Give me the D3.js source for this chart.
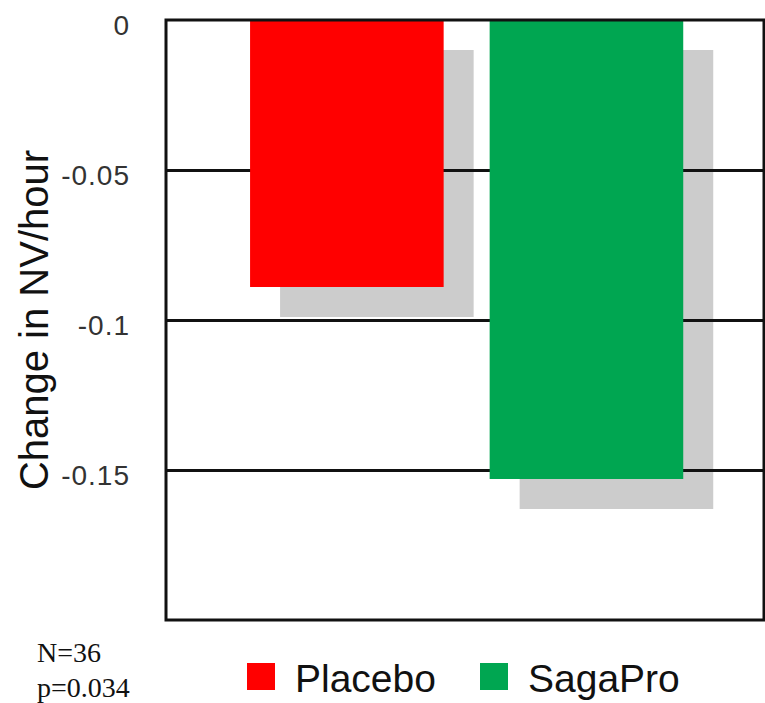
<!DOCTYPE html>
<html>
<head>
<meta charset="utf-8">
<script src="https://cdn.jsdelivr.net/npm/d3@7.9.0/dist/d3.min.js"></script>
<style>
  html, body { margin: 0; padding: 0; background: #fff; }
  svg { display: block; }
</style>
</head>
<body>
<svg id="chart" width="765" height="703"></svg>
<script>
// data
const groups = ['Placebo', 'SagaPro'];
const changes = [-0.089, -0.153];
const groupColors = ['#ff0000', '#00a651'];
const yTicks = [0, -0.05, -0.1, -0.15];
const yTickLabels = ['0', '-0.05', '-0.1', '-0.15'];
const notes = ['N=36', 'p=0.034'];

const svg = d3.select('#chart');
const plotLeft = 166, plotRight = 764, plotTop = 20, plotBottom = 620;
const shadowOffset = 30;

const y = d3.scaleLinear().domain([-0.2, 0]).range([plotBottom, plotTop]);
const x = d3.scaleBand().domain(groups).range([plotLeft, plotRight])
  .paddingInner(0.192).paddingOuter(0.344).align(0.51);

const data = groups.map((g, i) => ({ group: g, value: changes[i], color: groupColors[i] }));

// plot background
svg.append('rect')
  .attr('x', plotLeft).attr('y', plotTop)
  .attr('width', plotRight - plotLeft).attr('height', plotBottom - plotTop)
  .attr('fill', '#fff');

// drop shadows behind the bars
svg.selectAll('.shadow')
  .data(data)
  .join('rect')
  .attr('class', 'shadow')
  .attr('x', d => x(d.group) + shadowOffset)
  .attr('y', y(0) + shadowOffset)
  .attr('width', x.bandwidth())
  .attr('height', d => y(d.value) - y(0))
  .attr('fill', '#cccccc');

// grid lines (over shadows, under bars)
const yAxis = d3.axisLeft(y)
  .tickValues(yTicks.slice(1))
  .tickSize(-(plotRight - plotLeft))
  .tickFormat('');
svg.append('g')
  .attr('transform', `translate(${plotLeft},0)`)
  .call(yAxis)
  .call(g => g.select('.domain').remove())
  .call(g => g.selectAll('line').attr('stroke', '#111').attr('stroke-width', 3));

// bars
svg.selectAll('.bar')
  .data(data)
  .join('rect')
  .attr('class', 'bar')
  .attr('x', d => x(d.group))
  .attr('y', y(0))
  .attr('width', x.bandwidth())
  .attr('height', d => y(d.value) - y(0))
  .attr('fill', d => d.color);

// frame
svg.append('rect')
  .attr('x', plotLeft).attr('y', plotTop)
  .attr('width', plotRight - plotLeft).attr('height', plotBottom - plotTop)
  .attr('fill', 'none')
  .attr('stroke', '#111')
  .attr('stroke-width', 3);

// tick labels
svg.selectAll('.ylab')
  .data(yTicks)
  .join('text')
  .attr('class', 'ylab')
  .attr('x', 130)
  .attr('y', d => y(d) + 5)
  .attr('dy', '0.35em')
  .attr('text-anchor', 'end')
  .attr('font-family', 'Liberation Sans, Arial, sans-serif')
  .attr('font-size', 28)
  .attr('letter-spacing', 1)
  .attr('fill', '#333')
  .text((d, i) => yTickLabels[i]);

// axis title
svg.append('text')
  .attr('transform', `translate(48,${(150 + 490) / 2}) rotate(-90)`)
  .attr('text-anchor', 'middle')
  .attr('font-family', 'Liberation Sans, Arial, sans-serif')
  .attr('font-size', 40)
  .attr('fill', '#111')
  .text('Change in NV/hour');

// legend
const legendX = [247, 480];
const legend = svg.selectAll('.legend')
  .data(data)
  .join('g')
  .attr('class', 'legend')
  .attr('transform', (d, i) => `translate(${legendX[i]},663)`);
legend.append('rect')
  .attr('width', 28).attr('height', 27)
  .attr('fill', d => d.color);
legend.append('text')
  .attr('x', 48).attr('y', 29)
  .attr('font-family', 'Liberation Sans, Arial, sans-serif')
  .attr('font-size', 39)
  .attr('fill', '#111')
  .text(d => d.group);

// notes
svg.selectAll('.note')
  .data(notes)
  .join('text')
  .attr('class', 'note')
  .attr('x', 37)
  .attr('y', (d, i) => 662 + i * 35)
  .attr('font-family', 'Liberation Serif, Times New Roman, serif')
  .attr('font-size', 28)
  .attr('fill', '#111')
  .text(d => d);
</script>
</body>
</html>
